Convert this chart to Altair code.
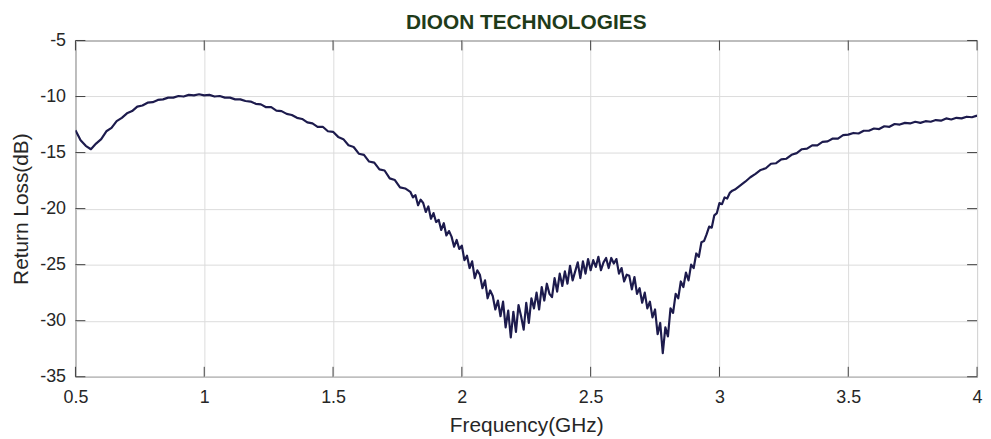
import altair as alt
import pandas as pd

# ---- data ----
seg_a_start, seg_a_step = 0.50, 0.02
seg_a_db = [
    -13.0, -13.9, -14.4, -14.7, -14.2, -13.8, -13.1, -12.8, -12.2, -11.9,
    -11.5, -11.3, -10.9, -10.8, -10.55, -10.5, -10.3, -10.25, -10.1, -10.1,
    -9.95, -10.0, -9.85, -9.9, -9.8, -9.9, -9.85, -10.0, -9.95, -10.1,
    -10.1, -10.25, -10.25, -10.4, -10.45, -10.65, -10.7, -10.95, -10.95, -11.25,
    -11.3, -11.55, -11.65, -11.9, -12.0, -12.3, -12.4, -12.7, -12.7, -13.1,
    -13.15, -13.6, -13.8, -14.35, -14.5, -15.1, -15.2, -15.8, -15.9, -16.5,
    -16.6, -17.3, -17.45, -18.1, -18.2,
]

seg_b_start, seg_b_step = 1.80, 0.01
seg_b_db = [
    -18.5, -19.0, -18.8, -19.7, -19.2, -19.5, -20.3, -19.8, -20.9, -20.4,
    -21.2, -21.0, -21.9, -21.3, -22.4, -22.0, -22.5, -23.4, -22.8, -23.6,
    -23.3, -24.6, -24.2, -25.3, -24.7, -26.2, -25.5, -25.9, -27.1, -26.4,
    -28.0, -27.3, -27.8, -29.0, -28.2, -29.6, -28.3, -30.6, -29.1, -31.5,
    -29.2, -31.0, -28.6, -29.6, -30.8, -28.4, -30.2, -28.0, -28.9, -27.5,
    -29.0, -27.0, -28.2, -26.7, -27.6, -27.9, -26.2, -27.4, -25.8, -26.9,
    -25.6, -26.7, -25.1, -26.4, -25.6, -24.8, -26.2, -24.7, -25.8, -24.5,
    -25.5, -24.6, -25.2, -24.3, -25.5, -24.8, -24.4, -25.3, -24.4, -24.9,
    -24.5, -25.8, -25.3, -26.5, -25.9, -26.0, -27.2, -26.1, -27.6, -27.1,
    -28.4, -27.5, -28.9, -28.3, -29.7, -29.0, -31.2, -30.2, -32.9, -30.6,
    -31.4, -28.9, -29.3, -27.6, -28.0, -26.5, -27.0, -25.7, -26.4, -25.0,
    -25.3, -24.0, -24.3, -23.0, -22.9, -22.3, -21.6, -21.7, -20.6, -20.4,
    -19.5, -19.6, -19.0, -19.1, -18.6, -18.4,
]

seg_c_start, seg_c_step = 3.06, 0.02
seg_c_db = [
    -18.3, -17.95, -17.6, -17.2, -16.9, -16.55, -16.4, -16.0, -15.95, -15.6,
    -15.55, -15.2, -15.05, -14.7, -14.65, -14.35, -14.35, -14.05, -14.0, -13.75,
    -13.75, -13.45, -13.4, -13.25, -13.3, -13.05, -13.05, -12.85, -12.9, -12.65,
    -12.7, -12.45, -12.5, -12.35, -12.4, -12.25, -12.35, -12.2, -12.25, -12.1,
    -12.15, -11.95, -12.05, -11.9, -11.95, -11.8, -11.85, -11.7,
]

x_ticks = [0.5, 1, 1.5, 2, 2.5, 3, 3.5, 4]
y_ticks = [-35, -30, -25, -20, -15, -10, -5]

title_text = "DIOON TECHNOLOGIES"
x_title = "Frequency(GHz)"
y_title = "Return Loss(dB)"

# ---- build table ----
rows = []
for start, step, vals in [(seg_a_start, seg_a_step, seg_a_db),
                          (seg_b_start, seg_b_step, seg_b_db),
                          (seg_c_start, seg_c_step, seg_c_db)]:
    for i, v in enumerate(vals):
        rows.append({"f": round(start + i * step, 4), "db": v})
df = pd.DataFrame(rows)

W, H = 909, 339
FONT = "Liberation Sans"
TXT = "#262626"
FRAME = "#404040"

xscale = alt.Scale(domain=[0.5, 4], nice=False, zero=False)
yscale = alt.Scale(domain=[-35, -5], nice=False, zero=False)
xaxis = alt.Axis(values=x_ticks, labelExpr="'' + datum.value", labelFlush=False,
                 labelPadding=12, titlePadding=8)
yaxis = alt.Axis(values=y_ticks, labelExpr="'' + datum.value", labelFlush=False,
                 labelPadding=10, titlePadding=8)

line = alt.Chart(df).mark_line(
    color="#1d1b4d", strokeWidth=2.2, strokeJoin="round", clip=True
).encode(
    x=alt.X("f:Q", scale=xscale, title=x_title, axis=xaxis),
    y=alt.Y("db:Q", scale=yscale, title=y_title, axis=yaxis),
)

xt = pd.DataFrame({"t": x_ticks})
yt = pd.DataFrame({"t": y_ticks})

tick_len = 10
xb = alt.Chart(xt).mark_rule(color=FRAME, strokeWidth=1).encode(
    x=alt.X("t:Q", scale=xscale, title=x_title, axis=xaxis),
    y=alt.value(H), y2=alt.value(H - tick_len))
xtp = alt.Chart(xt).mark_rule(color=FRAME, strokeWidth=1).encode(
    x=alt.X("t:Q", scale=xscale, title=x_title, axis=xaxis),
    y=alt.value(0), y2=alt.value(tick_len))
yl = alt.Chart(yt).mark_rule(color=FRAME, strokeWidth=1).encode(
    y=alt.Y("t:Q", scale=yscale, title=y_title, axis=yaxis),
    x=alt.value(0), x2=alt.value(tick_len))
yr = alt.Chart(yt).mark_rule(color=FRAME, strokeWidth=1).encode(
    y=alt.Y("t:Q", scale=yscale, title=y_title, axis=yaxis),
    x=alt.value(W), x2=alt.value(W - tick_len))

chart = alt.layer(line, xb, xtp, yl, yr).properties(
    width=W, height=H,
    autosize=alt.AutoSizeParams(type="none"),
    padding={"left": 68, "top": 31, "right": 6, "bottom": 60},
    background="white",
    title=alt.TitleParams(title_text, fontSize=21, fontWeight="bold",
                          color="#1f3b1a", font=FONT, offset=-1,
                          anchor="middle"),
).configure_view(
    stroke=FRAME, strokeWidth=1
).configure_axis(
    grid=True, gridColor="#dcdcdc", gridWidth=1,
    domain=False, ticks=False, tickSize=0,
    labelFont=FONT, labelFontSize=18, labelColor=TXT,
    titleFont=FONT, titleFontSize=21, titleColor=TXT, titleFontWeight="normal",
)

chart.save("out.html", embed_options={"renderer": "svg", "actions": False})
